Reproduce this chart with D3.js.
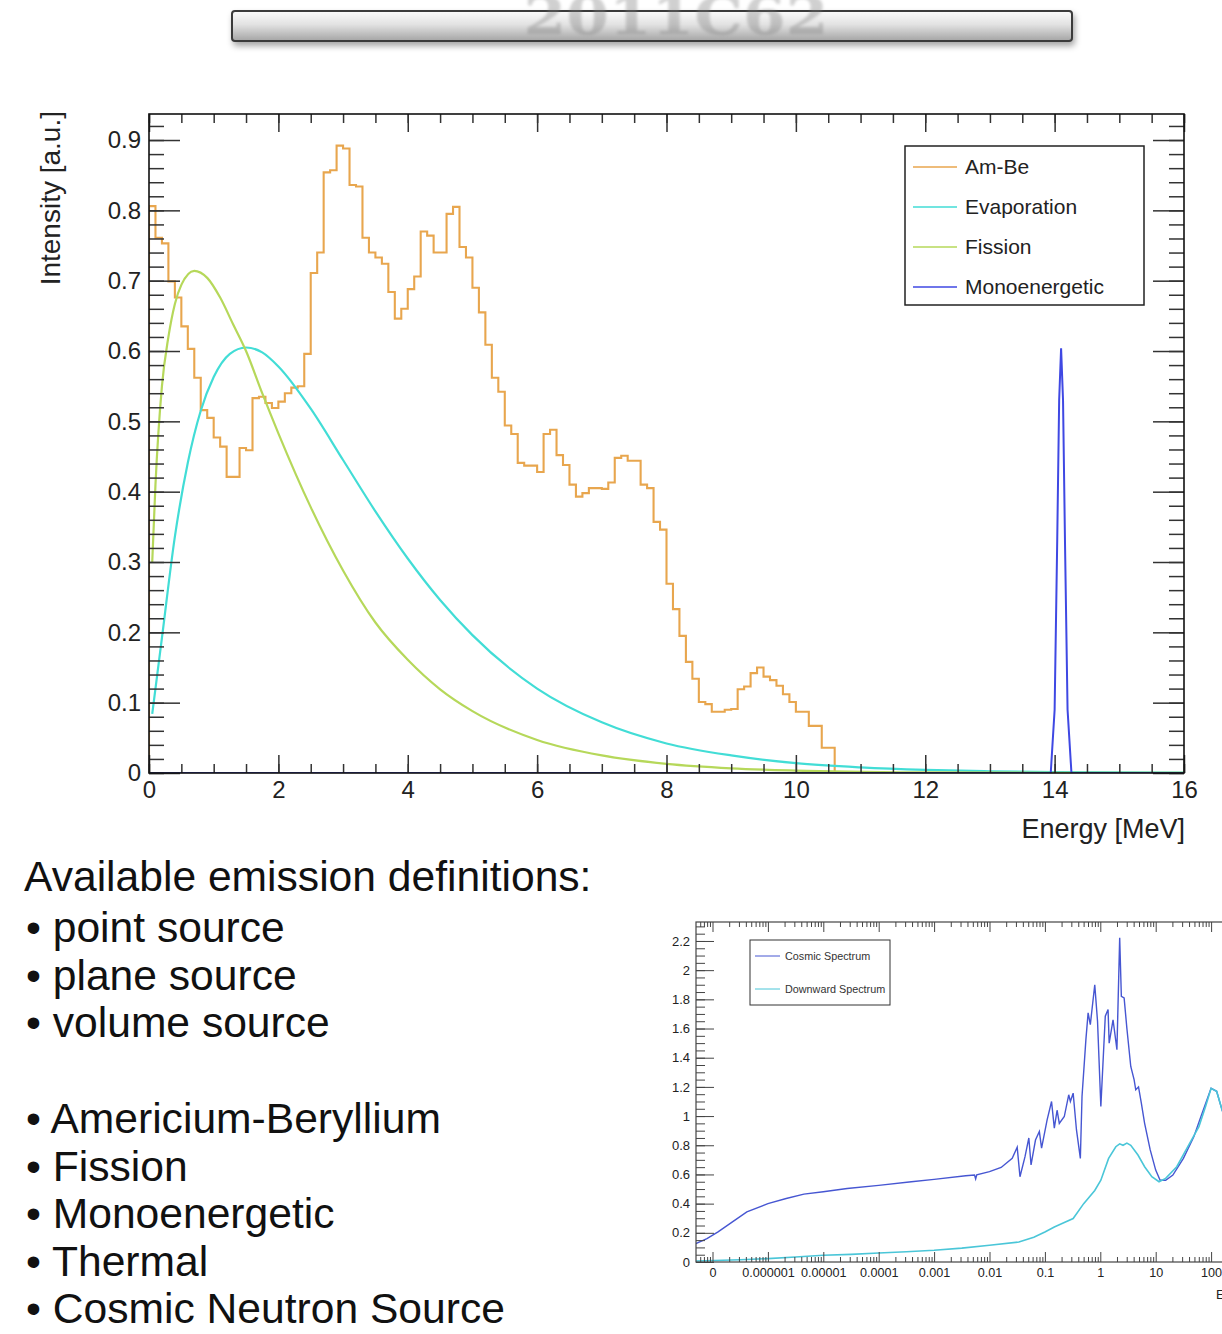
<!DOCTYPE html>
<html>
<head>
<meta charset="utf-8">
<script src="https://cdn.jsdelivr.net/npm/d3@7"></script>
<style>
  html, body { margin: 0; padding: 0; background: #fff; overflow: hidden; }
  svg { display: block; }
</style>
</head>
<body>
<svg id="slide" width="1222" height="1334"></svg>
<script>
// ---- main plot data (energy in MeV, intensity in a.u.) ----
const binWidth = 0.1;
// Am-Be histogram, one value per 0.1 MeV bin starting at 0
const amBeBins = [
  0.806, 0.761, 0.753, 0.699, 0.676, 0.635, 0.603, 0.562, 0.516, 0.505,
  0.477, 0.464, 0.421, 0.421, 0.462, 0.459, 0.533, 0.535, 0.526, 0.519,
  0.528, 0.540, 0.548, 0.550, 0.596, 0.711, 0.740, 0.854, 0.857, 0.892,
  0.888, 0.836, 0.834, 0.761, 0.740, 0.733, 0.724, 0.684, 0.646, 0.660,
  0.688, 0.706, 0.770, 0.764, 0.740, 0.740, 0.795, 0.805, 0.748, 0.733,
  0.690, 0.655, 0.609, 0.562, 0.542, 0.494, 0.482, 0.441, 0.437, 0.437,
  0.428, 0.482, 0.488, 0.452, 0.438, 0.410, 0.393, 0.398, 0.405, 0.405,
  0.404, 0.413, 0.448, 0.451, 0.444, 0.444, 0.410, 0.405, 0.357, 0.346,
  0.269, 0.233, 0.195, 0.158, 0.134, 0.101, 0.098, 0.087, 0.087, 0.090,
  0.091, 0.119, 0.123, 0.142, 0.150, 0.137, 0.132, 0.124, 0.112, 0.101,
  0.087, 0.087, 0.067, 0.067, 0.036, 0.036
];

const evapEnergy = [0.05, 0.2, 0.4, 0.6, 0.8, 1.0, 1.25, 1.5, 1.75, 2.0, 2.5, 3, 3.5, 4, 4.5, 5, 6, 7, 8, 9, 10, 11, 12, 13, 14, 16];
const evapValue  = [0.084, 0.192, 0.336, 0.441, 0.515, 0.563, 0.596, 0.605, 0.598, 0.578, 0.518, 0.445, 0.372, 0.305, 0.246, 0.196, 0.120, 0.072, 0.042, 0.025, 0.014, 0.008, 0.0044, 0.0024, 0.0013, 0.0004];

const fissionEnergy = [0.05, 0.1, 0.2, 0.3, 0.4, 0.5, 0.7, 0.9, 1.1, 1.3, 1.5, 1.75, 2.0, 2.5, 3.0, 3.5, 4, 4.5, 5, 6, 7, 8, 9, 10, 12, 14, 16];
const fissionValue  = [0.30, 0.41, 0.55, 0.62, 0.667, 0.694, 0.714, 0.704, 0.676, 0.638, 0.600, 0.540, 0.483, 0.378, 0.288, 0.214, 0.161, 0.119, 0.088, 0.047, 0.025, 0.013, 0.0067, 0.0035, 0.0009, 0.0002, 0.0001];

const monoEnergy = [0, 13.94, 14.0, 14.04, 14.07, 14.1, 14.13, 14.16, 14.2, 14.26, 16];
const monoValue  = [0, 0, 0.09, 0.33, 0.53, 0.604, 0.53, 0.33, 0.09, 0, 0];

const xMajor = [0, 2, 4, 6, 8, 10, 12, 14, 16];
const yMajor = [0, 0.1, 0.2, 0.3, 0.4, 0.5, 0.6, 0.7, 0.8, 0.9];
const legendNames = ["Am-Be", "Evaporation", "Fission", "Monoenergetic"];
const colors = { amBe: "#e8a64e", evap: "#42ddd6", fission: "#b6d85a", mono: "#3f48e3" };

// ---- inset data (log10 of energy in MeV) ----
const cosmicLogE = [-7.3, -7.1, -6.9, -6.64, -6.38, -6.0, -5.67, -5.35, -5.0, -4.57, -4.0, -3.41, -3.0, -2.43, -2.27, -2.25, -2.23, -2.0, -1.79, -1.59,
  -1.5, -1.45, -1.36, -1.29, -1.25, -1.17, -1.1, -1.06, -0.96, -0.88, -0.83, -0.78, -0.74, -0.65, -0.57, -0.54, -0.49, -0.43, -0.36, -0.33,
  -0.26, -0.22, -0.18, -0.1, -0.05, 0.01, 0.09, 0.14, 0.16, 0.23, 0.3, 0.35, 0.38, 0.43, 0.48, 0.55, 0.61, 0.64, 0.69, 0.74,
  0.8, 0.9, 1.0, 1.08, 1.18, 1.31, 1.5, 1.69, 1.82, 2.0, 2.1, 2.2, 2.4];
const cosmicValue = [0.126, 0.16, 0.206, 0.275, 0.344, 0.40, 0.435, 0.465, 0.481, 0.504, 0.525, 0.55, 0.566, 0.591, 0.596, 0.57, 0.598, 0.619, 0.648, 0.71,
  0.786, 0.584, 0.72, 0.85, 0.665, 0.836, 0.894, 0.78, 0.974, 1.10, 0.917, 1.04, 0.95, 0.997, 1.146, 1.10, 1.157, 0.905, 0.71, 1.134,
  1.524, 1.707, 1.627, 1.90, 1.65, 1.066, 1.684, 1.73, 1.50, 1.66, 1.455, 2.222, 1.82, 1.81, 1.60, 1.34, 1.25, 1.18, 1.20, 1.09,
  0.95, 0.77, 0.63, 0.56, 0.56, 0.596, 0.71, 0.86, 1.0, 1.19, 1.17, 1.04, 0.85];

const downLogE = [-7.3, -6.5, -6.0, -5.5, -5.0, -4.5, -4.0, -3.5, -3.0, -2.5, -2.0, -1.47, -1.2, -1.0, -0.83, -0.65, -0.49, -0.3, -0.1, 0.01,
  0.15, 0.28, 0.35, 0.41, 0.48, 0.55, 0.68, 0.8, 0.93, 1.06, 1.18, 1.38, 1.58, 1.78, 1.9, 2.0, 2.1, 2.2, 2.4];
const downValue = [0.007, 0.015, 0.023, 0.034, 0.046, 0.052, 0.062, 0.07, 0.08, 0.095, 0.115, 0.137, 0.17, 0.206, 0.24, 0.27, 0.298, 0.40, 0.49, 0.56,
  0.71, 0.79, 0.81, 0.80, 0.815, 0.80, 0.733, 0.653, 0.584, 0.55, 0.573, 0.653, 0.79, 0.928, 1.066, 1.19, 1.17, 1.04, 0.85];

const insetXLabels = ["0", "0.000001", "0.00001", "0.0001", "0.001", "0.01", "0.1", "1", "10", "100"];
const insetYMajor = [0, 0.2, 0.4, 0.6, 0.8, 1, 1.2, 1.4, 1.6, 1.8, 2, 2.2];
const insetNames = ["Cosmic Spectrum", "Downward Spectrum"];
const insetColors = ["#4656d2", "#4ac6d8"];

const bulletsTop = ["point source", "plane source", "volume source"];
const bulletsBottom = ["Americium-Beryllium", "Fission", "Monoenergetic", "Thermal", "Cosmic Neutron Source"];

// ---------------------------------------------------------------
const font = "'Liberation Sans', Arial, Helvetica, sans-serif";
const svg = d3.select("#slide").style("font-family", font);
const defs = svg.append("defs");

// title bar
const grad = defs.append("linearGradient").attr("id", "barGrad")
  .attr("x1", 0).attr("y1", 0).attr("x2", 0).attr("y2", 1);
grad.append("stop").attr("offset", 0).attr("stop-color", "#fbfbfb");
grad.append("stop").attr("offset", 0.45).attr("stop-color", "#e2e2e2");
grad.append("stop").attr("offset", 1).attr("stop-color", "#a4a4a4");

const shadow = defs.append("filter").attr("id", "barShadow")
  .attr("x", "-5%").attr("y", "-50%").attr("width", "110%").attr("height", "250%");
shadow.append("feDropShadow").attr("dx", 2).attr("dy", 4).attr("stdDeviation", 3)
  .attr("flood-color", "#000").attr("flood-opacity", 0.35);

defs.append("filter").attr("id", "soft")
  .append("feGaussianBlur").attr("stdDeviation", 1.4);

svg.append("rect")
  .attr("x", 232).attr("y", 11).attr("width", 840).attr("height", 30).attr("rx", 3)
  .attr("fill", "url(#barGrad)").attr("stroke", "#3a3a3a").attr("stroke-width", 2)
  .attr("filter", "url(#barShadow)");

// faded title behind the bar glass
svg.append("text")
  .attr("x", 676).attr("y", 34)
  .attr("text-anchor", "middle")
  .attr("textLength", 305).attr("lengthAdjust", "spacingAndGlyphs")
  .style("font-family", "'DejaVu Serif', serif").style("font-weight", "bold")
  .style("font-size", "52px").attr("fill", "#7a7a7a").attr("opacity", 0.35)
  .attr("filter", "url(#soft)")
  .text("2011C62");

// ---------------- main plot ----------------
const frame = { left: 149, right: 1184, top: 114, bottom: 773 };
const x = d3.scaleLinear().domain([0, 16]).range([frame.left, frame.right]);
const y = d3.scaleLinear().domain([0, 0.937]).range([frame.bottom, frame.top]);

const plot = svg.append("g");

defs.append("clipPath").attr("id", "mainClip").append("rect")
  .attr("x", frame.left).attr("y", frame.top)
  .attr("width", frame.right - frame.left).attr("height", frame.bottom - frame.top);

const curves = plot.append("g").attr("clip-path", "url(#mainClip)");

// Am-Be histogram outline
const amBePts = [{ e: 0, v: 0 }]
  .concat(amBeBins.map((v, k) => ({ e: k * binWidth, v })))
  .concat([{ e: amBeBins.length * binWidth, v: 0 }, { e: 16, v: 0 }]);

curves.append("path")
  .datum(amBePts)
  .attr("fill", "none")
  .attr("stroke", colors.amBe)
  .attr("stroke-width", 2.1)
  .attr("d", d3.line().curve(d3.curveStepAfter).x(d => x(d.e)).y(d => y(d.v)));

const smooth = d3.line().curve(d3.curveMonotoneX).x(d => x(d[0])).y(d => y(d[1]));

curves.append("path")
  .datum(d3.zip(evapEnergy, evapValue))
  .attr("fill", "none").attr("stroke", colors.evap).attr("stroke-width", 2.2)
  .attr("d", smooth);

curves.append("path")
  .datum(d3.zip(fissionEnergy, fissionValue))
  .attr("fill", "none").attr("stroke", colors.fission).attr("stroke-width", 2.2)
  .attr("d", smooth);

curves.append("path")
  .datum(d3.zip(monoEnergy, monoValue))
  .attr("fill", "none").attr("stroke", colors.mono).attr("stroke-width", 2)
  .attr("d", d3.line().x(d => x(d[0])).y(d => y(d[1])));

// ticks (ROOT style, on all four sides, pointing inside)
const yMinor = d3.range(0, 0.93, 0.02);
const xMinor = d3.range(0, 16.01, 0.5);

function tickAxis(axis, tx, ty) {
  const g = plot.append("g").attr("transform", `translate(${tx},${ty})`).call(axis);
  g.select(".domain").remove();
  g.selectAll("line").attr("stroke", "#333").attr("stroke-width", 1.5);
  g.selectAll("text").remove();
  return g;
}

tickAxis(d3.axisRight(y).tickValues(yMajor).tickSize(31), frame.left, 0);
tickAxis(d3.axisRight(y).tickValues(yMinor).tickSize(15), frame.left, 0);
tickAxis(d3.axisLeft(y).tickValues(yMajor).tickSize(31), frame.right, 0);
tickAxis(d3.axisLeft(y).tickValues(yMinor).tickSize(15), frame.right, 0);
tickAxis(d3.axisTop(x).tickValues(xMajor).tickSize(18), 0, frame.bottom);
tickAxis(d3.axisTop(x).tickValues(xMinor).tickSize(9), 0, frame.bottom);
tickAxis(d3.axisBottom(x).tickValues(xMajor).tickSize(18), 0, frame.top);
tickAxis(d3.axisBottom(x).tickValues(xMinor).tickSize(9), 0, frame.top);

// tick labels
const yLab = plot.append("g").attr("transform", `translate(${frame.left},0)`)
  .call(d3.axisLeft(y).tickValues(yMajor).tickSize(0).tickPadding(8).tickFormat(d3.format("~g")));
yLab.select(".domain").remove();
yLab.selectAll("text").style("font-family", font).style("font-size", "24px").attr("fill", "#222");

const xLab = plot.append("g").attr("transform", `translate(0,${frame.bottom})`)
  .call(d3.axisBottom(x).tickValues(xMajor).tickSize(0).tickPadding(8).tickFormat(d3.format("~g")));
xLab.select(".domain").remove();
xLab.selectAll("text").style("font-family", font).style("font-size", "24px").attr("fill", "#222");

// frame
plot.append("rect")
  .attr("x", frame.left).attr("y", frame.top)
  .attr("width", frame.right - frame.left).attr("height", frame.bottom - frame.top)
  .attr("fill", "none").attr("stroke", "#111").attr("stroke-width", 1.6);

// axis titles
plot.append("text")
  .attr("x", frame.right + 1).attr("y", 838)
  .attr("text-anchor", "end")
  .style("font-size", "27px").attr("fill", "#222")
  .text("Energy [MeV]");

plot.append("text")
  .attr("transform", "translate(60,111) rotate(-90)")
  .attr("text-anchor", "end")
  .style("font-size", "28px").attr("fill", "#222")
  .text("Intensity [a.u.]");

// legend
const legend = plot.append("g").attr("transform", "translate(905,146)");
legend.append("rect")
  .attr("width", 239).attr("height", 159)
  .attr("fill", "#fff").attr("stroke", "#222").attr("stroke-width", 1.5);

const legendColors = [colors.amBe, colors.evap, colors.fission, colors.mono];
legendNames.forEach((name, i) => {
  const row = legend.append("g").attr("transform", `translate(0,${21 + i * 40})`);
  row.append("line")
    .attr("x1", 8).attr("x2", 52)
    .attr("stroke", legendColors[i]).attr("stroke-width", 1.6);
  row.append("text")
    .attr("x", 60).attr("dy", "0.35em")
    .style("font-size", "21px").attr("fill", "#222")
    .text(name);
});

// ---------------- slide text ----------------
const textBlock = svg.append("g").attr("fill", "#111").style("font-size", "42.6px");
textBlock.append("text").attr("x", 24).attr("y", 891).text("Available emission definitions:");

const bulletY = [942, 990, 1037];
bulletsTop.forEach((t, i) => {
  textBlock.append("text").attr("x", 26).attr("y", bulletY[i]).text("\u2022 " + t);
});
const bulletY2 = [1133, 1181, 1228, 1276, 1323];
bulletsBottom.forEach((t, i) => {
  textBlock.append("text").attr("x", 26).attr("y", bulletY2[i]).text("\u2022 " + t);
});

// ---------------- inset plot ----------------
const inFrame = { left: 696, right: 1330, top: 922, bottom: 1262 };
const ix = d3.scaleLog().domain([1e-7, 100]).range([712.5, 712.5 + 9 * 55.4]);
const iy = d3.scaleLinear().domain([0, 2.33]).range([inFrame.bottom, inFrame.top]);

const inset = svg.append("g");
defs.append("clipPath").attr("id", "insetClip").append("rect")
  .attr("x", inFrame.left).attr("y", inFrame.top)
  .attr("width", inFrame.right - inFrame.left).attr("height", inFrame.bottom - inFrame.top);

const insetCurves = inset.append("g").attr("clip-path", "url(#insetClip)");
const logLine = d3.line().x(d => ix(Math.pow(10, d[0]))).y(d => iy(d[1]));

insetCurves.append("path")
  .datum(d3.zip(cosmicLogE, cosmicValue))
  .attr("fill", "none").attr("stroke", insetColors[0]).attr("stroke-width", 1.4)
  .attr("d", logLine);
insetCurves.append("path")
  .datum(d3.zip(downLogE, downValue))
  .attr("fill", "none").attr("stroke", insetColors[1]).attr("stroke-width", 1.6)
  .attr("d", logLine);

const decades = d3.range(-7, 4).map(p => Math.pow(10, p));
const labelled = decades.slice(0, insetXLabels.length);
const minorDec = [];
d3.range(-8, 4).forEach(p => {
  d3.range(2, 10).forEach(m => {
    const v = m * Math.pow(10, p);
    if (ix(v) > inFrame.left && ix(v) < inFrame.right) minorDec.push(v);
  });
});
const iyMinor = d3.range(0, 2.31, 0.05);

function insetTicks(axis, tx, ty) {
  const g = inset.append("g").attr("transform", `translate(${tx},${ty})`).call(axis);
  g.select(".domain").remove();
  g.selectAll("line").attr("stroke", "#444").attr("stroke-width", 1);
  g.selectAll("text").remove();
}
insetTicks(d3.axisTop(ix).tickValues(decades).tickSize(10), 0, inFrame.bottom);
insetTicks(d3.axisTop(ix).tickValues(minorDec).tickSize(5), 0, inFrame.bottom);
insetTicks(d3.axisBottom(ix).tickValues(decades).tickSize(10), 0, inFrame.top);
insetTicks(d3.axisBottom(ix).tickValues(minorDec).tickSize(5), 0, inFrame.top);
insetTicks(d3.axisRight(iy).tickValues(insetYMajor).tickSize(18), inFrame.left, 0);
insetTicks(d3.axisRight(iy).tickValues(iyMinor).tickSize(9), inFrame.left, 0);

const ixLab = inset.append("g").attr("transform", `translate(0,${inFrame.bottom})`)
  .call(d3.axisBottom(ix).tickValues(labelled).tickSize(0).tickPadding(6)
    .tickFormat((d, i) => insetXLabels[i]));
ixLab.select(".domain").remove();
ixLab.selectAll("text").style("font-family", font).style("font-size", "12.6px").attr("fill", "#222");

const iyLab = inset.append("g").attr("transform", `translate(${inFrame.left},0)`)
  .call(d3.axisLeft(iy).tickValues(insetYMajor).tickSize(0).tickPadding(6).tickFormat(d3.format("~g")));
iyLab.select(".domain").remove();
iyLab.selectAll("text").style("font-family", font).style("font-size", "13px").attr("fill", "#222");

inset.append("rect")
  .attr("x", inFrame.left).attr("y", inFrame.top)
  .attr("width", inFrame.right - inFrame.left).attr("height", inFrame.bottom - inFrame.top)
  .attr("fill", "none").attr("stroke", "#444").attr("stroke-width", 1.2);

// axis title of the inset runs off the right edge of the slide
inset.append("text")
  .attr("x", 1216).attr("y", 1299)
  .style("font-size", "13px").attr("fill", "#222")
  .text("Energy [MeV]");

const insetLegend = inset.append("g").attr("transform", "translate(750,940)");
insetLegend.append("rect")
  .attr("width", 140).attr("height", 65)
  .attr("fill", "#fff").attr("stroke", "#333").attr("stroke-width", 1);
insetNames.forEach((name, i) => {
  const row = insetLegend.append("g").attr("transform", `translate(0,${16 + i * 33})`);
  row.append("line").attr("x1", 5).attr("x2", 30)
    .attr("stroke", insetColors[i]).attr("stroke-width", 1);
  row.append("text").attr("x", 35).attr("dy", "0.35em")
    .style("font-size", "10.8px").attr("fill", "#333")
    .text(name);
});
</script>
</body>
</html>
